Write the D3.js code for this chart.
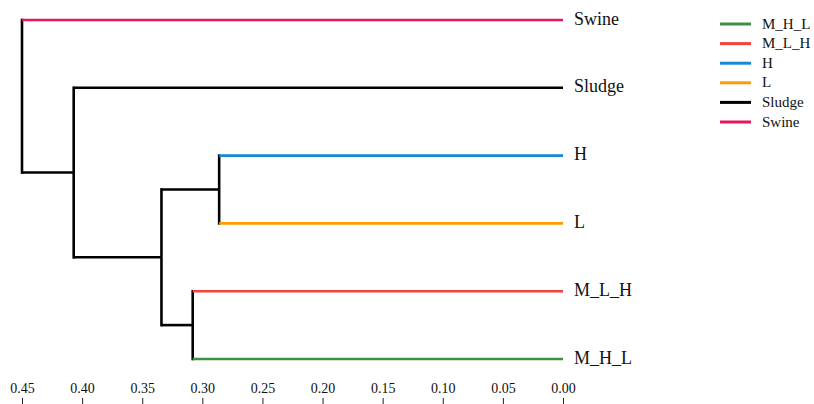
<!DOCTYPE html>
<html>
<head>
<meta charset="utf-8">
<script src="https://cdn.jsdelivr.net/npm/d3@7"></script>
<style>
  html, body { margin: 0; padding: 0; background: #fff; }
  svg { display: block; }
  svg text { font-family: "Liberation Serif", "Times New Roman", serif; }
</style>
</head>
<body>
<svg id="chart" width="814" height="404"></svg>
<script>
// Leaves, top to bottom, with their colours
const leafNames  = ["Swine", "Sludge", "H", "L", "M_L_H", "M_H_L"];
const leafColors = ["#e8175d", "#000000", "#1a87d6", "#ff9a00", "#f4433a", "#3d9142"];

// Agglomerative merges: [left, right, distance, new cluster id]
const linkage = [
  ["H",      "L",      0.286, "c1"],
  ["M_L_H",  "M_H_L",  0.308, "c2"],
  ["c1",     "c2",     0.334, "c3"],
  ["Sludge", "c3",     0.407, "c4"],
  ["Swine",  "c4",     0.450, "c5"]
];

// Distance axis ticks
const tickValues = [0.45, 0.40, 0.35, 0.30, 0.25, 0.20, 0.15, 0.10, 0.05, 0.00];

// Legend order
const legendNames = ["M_H_L", "M_L_H", "H", "L", "Sludge", "Swine"];

const svg = d3.select("#chart");

const x = d3.scaleLinear().domain([0.45, 0]).range([22, 563]);
const y = d3.scalePoint().domain(leafNames).range([20, 359]);
const color = d3.scaleOrdinal().domain(leafNames).range(leafColors);

// Position of every node: leaves at distance 0, clusters at their merge distance
const nodes = new Map();
leafNames.forEach(n => nodes.set(n, { h: 0, y: y(n), leaf: true }));
linkage.forEach(([a, b, h, id]) => {
  const na = nodes.get(a), nb = nodes.get(b);
  nodes.set(id, { h, y: (na.y + nb.y) / 2, leaf: false });
});

const g = svg.append("g");
const lw = 2.6;

linkage.forEach(([a, b, h, id]) => {
  const na = nodes.get(a), nb = nodes.get(b);
  // vertical connector
  g.append("line")
    .attr("x1", x(h)).attr("x2", x(h))
    .attr("y1", na.y).attr("y2", nb.y)
    .attr("stroke", "#000").attr("stroke-width", lw)
    .attr("stroke-linecap", "square");
  // horizontal arms to each child
  [[a, na], [b, nb]].forEach(([name, c]) => {
    g.append("line")
      .attr("x1", x(h)).attr("x2", x(c.h))
      .attr("y1", c.y).attr("y2", c.y)
      .attr("stroke", c.leaf ? color(name) : "#000")
      .attr("stroke-width", lw);
  });
});

// Leaf labels
g.selectAll("text.leaf")
  .data(leafNames)
  .join("text")
  .attr("class", "leaf")
  .attr("x", 574)
  .attr("y", d => y(d))
  .attr("dy", "0.26em")
  .style("font-size", "18px")
  .attr("fill", "#111")
  .text(d => d);

// Distance axis along the bottom edge
const axis = d3.axisTop(x)
  .tickValues(tickValues)
  .tickFormat(d3.format(".2f"))
  .tickSize(7)
  .tickPadding(5);

const ax = svg.append("g")
  .attr("transform", "translate(0,405)")
  .call(axis)
  .attr("font-family", null);
ax.select(".domain").remove();
ax.selectAll(".tick line").attr("stroke", "#222");
ax.selectAll(".tick text")
  .style("font-size", "14px")
  .attr("fill", "#111");

// Legend
const ly = d3.scalePoint().domain(legendNames).range([24, 122]);
const legend = svg.append("g");
legend.selectAll("line")
  .data(legendNames)
  .join("line")
  .attr("x1", 720).attr("x2", 751)
  .attr("y1", d => ly(d)).attr("y2", d => ly(d))
  .attr("stroke", d => color(d))
  .attr("stroke-width", 3);
legend.selectAll("text")
  .data(legendNames)
  .join("text")
  .attr("x", 762)
  .attr("y", d => ly(d))
  .attr("dy", "0.3em")
  .style("font-size", "15px")
  .attr("fill", "#111")
  .text(d => d);
</script>
</body>
</html>
